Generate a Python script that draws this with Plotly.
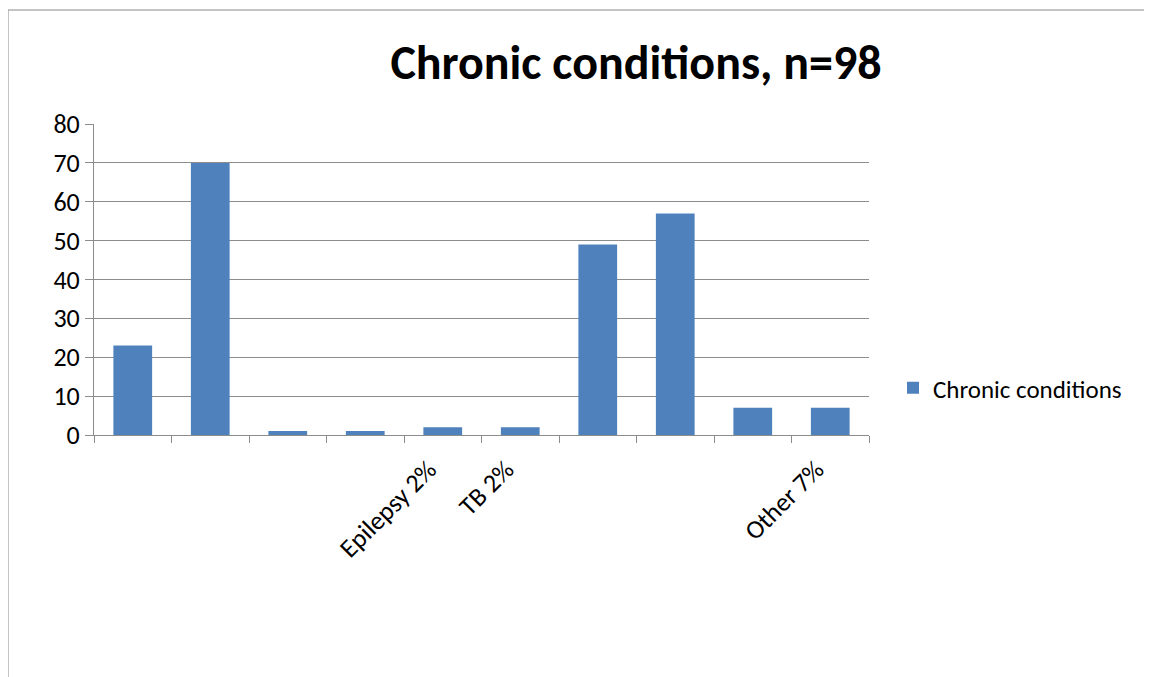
import plotly.graph_objects as go

# Data
labels = ["", "", "", "", "Epilepsy 2%", "TB 2%", "", "", "", "Other 7%"]
values = [23, 70, 1, 1, 2, 2, 49, 57, 7, 7]
series_name = "Chronic conditions"
title_text = "Chronic conditions, n=98"
y_ticks = [0, 10, 20, 30, 40, 50, 60, 70, 80]

FONT = "Calibri, Carlito, 'Open Sans', sans-serif"
GRID = "#8c8c8c"
BAR = "#4F81BD"

positions = list(range(len(values)))

fig = go.Figure()
fig.add_trace(go.Bar(
    x=positions, y=values, name=series_name,
    marker=dict(color=BAR, line=dict(width=0)),
    showlegend=True,
))

OFF = 8  # page body margin offset
W, H = 1152, 677
L, T = 94 - OFF, 124 - OFF
R = W - (869 - OFF)
B = H - (435 - OFF)
pw, ph = W - L - R, H - T - B

fig.update_layout(
    width=W, height=H,
    margin=dict(l=L, r=R, t=T, b=B, pad=0),
    paper_bgcolor="white", plot_bgcolor="white",
    bargap=0.5,
    font=dict(family=FONT, color="black"),
    title=dict(
        text="<b>" + title_text + "</b>",
        font=dict(family=FONT, size=48, color="black"),
        x=(636 - OFF) / W, xanchor="center", xref="container",
        y=1 - (62 - OFF) / H, yanchor="middle", yref="container",
    ),
    showlegend=True,
    legend=dict(
        x=(893 - OFF - L) / pw, xanchor="left",
        y=(435 - 388) / ph, yanchor="middle",
        font=dict(family=FONT, size=25, color="black"),
        bgcolor="rgba(0,0,0,0)",
        itemwidth=30,
    ),
    xaxis=dict(
        range=[-0.5, len(values) - 0.5],
        tickmode="array", tickvals=positions, ticktext=labels,
        tickangle=-45, ticks="", ticklabelstandoff=8, ticklabelshift=-14,
        tickfont=dict(family=FONT, size=26, color="black"),
        showline=True, linecolor=GRID, linewidth=1,
        showgrid=False, zeroline=False,
        minor=dict(ticks="outside", tickmode="linear", tick0=-0.5, dtick=1,
                   ticklen=7, tickcolor=GRID, tickwidth=1, showgrid=False),
    ),
    yaxis=dict(
        range=[0, 80], tickmode="array", tickvals=y_ticks,
        ticks="outside", ticklen=8, tickcolor=GRID, tickwidth=1,
        tickfont=dict(family=FONT, size=26, color="black"),
        showline=True, linecolor=GRID, linewidth=1,
        showgrid=True, gridcolor=GRID, gridwidth=1,
        zeroline=False,
    ),
)

# Outer chart-area border (top and left visible in reference)
fig.add_shape(
    type="rect", xref="paper", yref="paper",
    x0=(8 - OFF - L) / pw, x1=(W + 20 - L) / pw,
    y0=-(H + 20 - T - ph) / ph, y1=(435 - 10) / ph,
    line=dict(color="#8a8a8a", width=1), fillcolor="rgba(0,0,0,0)",
    layer="below",
)

fig.write_html("out.html")
